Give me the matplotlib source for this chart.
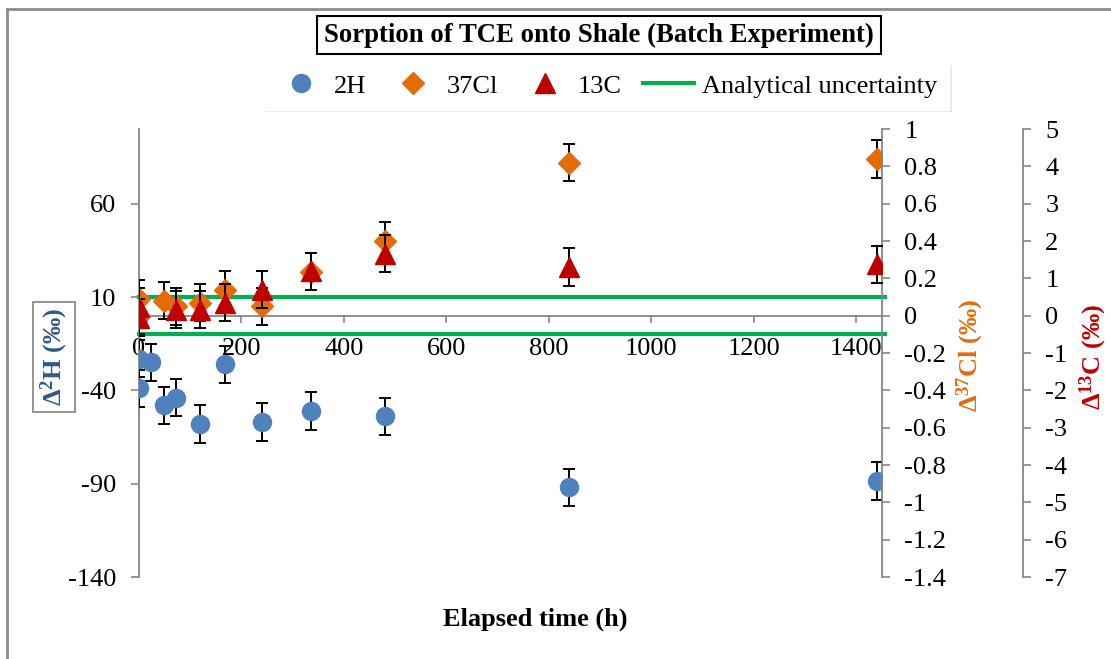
"""
Sorption of TCE onto shale (batch experiment): isotope shifts vs. elapsed time
on three stacked y scales (2H left, 37Cl and 13C right).
"""

import matplotlib
matplotlib.use("Agg")
import matplotlib.pyplot as plt
from matplotlib.lines import Line2D

plt.rcParams['font.family'] = ['Liberation Serif', 'DejaVu Serif']
plt.rcParams['mathtext.fontset'] = 'custom'
plt.rcParams['mathtext.rm'] = 'Liberation Serif'
plt.rcParams['mathtext.bf'] = 'Liberation Serif:bold'
plt.rcParams['mathtext.default'] = 'bf'
plt.rcParams['axes.unicode_minus'] = False

# ---- data ----
T_H = [0, 0, 0, 24, 48, 72, 120, 168, 240, 336, 480, 840, 1440]
D2H = [0, -23, -39, -25, -48, -44, -58, -26, -57, -51, -54, -92, -88.5]
H_ERR = 10

T_CL = [0, 0, 48, 72, 120, 168, 240, 336, 480, 840, 1440]
D37CL = [0.0, 0.09, 0.08, 0.05, 0.07, 0.14, 0.05, 0.235, 0.40, 0.82, 0.84]
CL_ERR = 0.1

T_C = [0, 0, 72, 120, 168, 240, 336, 480, 840, 1440]
D13C = [0.24, -0.05, 0.16, 0.16, 0.35, 0.7, 1.19, 1.66, 1.3, 1.38]
C_ERR = 0.5

UNCERT_CL = 0.1  # analytical uncertainty band on the 37Cl scale

X_TICKS = [0, 200, 400, 600, 800, 1000, 1200, 1400]
H_TICKS = [-140, -90, -40, 10, 60]
CL_TICKS = [-1.4, -1.2, -1.0, -0.8, -0.6, -0.4, -0.2, 0, 0.2, 0.4, 0.6, 0.8, 1.0]
C_TICKS = list(range(-7, 6))

BLUE = '#4F81BD'
ORANGE = '#E36C09'
RED = '#C00000'
GREEN = '#00B050'
GRAY = '#868686'
FS = 19


def fmt(v):
    s = f"{v:.1f}".rstrip('0').rstrip('.')
    return '0' if s in ('-0', '0') else s


fig = plt.figure(figsize=(11.11, 6.59), dpi=100)
ax = fig.add_axes([0.1251, 0.1244, 0.6688, 0.6798])
ax2 = ax.twinx()
ax3 = ax.twinx()

eb = dict(ecolor='black', elinewidth=1.4, capsize=4.5, capthick=1.4)

# primary: 2H
ax.errorbar(T_H, D2H, yerr=H_ERR, fmt='o', ms=13, color=BLUE, zorder=3, **eb)
ax.set_xlim(0, 1450)
ax.set_ylim(-140, 100)

# secondary: 37Cl + uncertainty lines
ax2.plot([0, 1455], [UNCERT_CL, UNCERT_CL], color=GREEN, lw=3, clip_on=False)
ax2.plot([0, 1455], [-UNCERT_CL, -UNCERT_CL], color=GREEN, lw=3, clip_on=False)
ax2.errorbar(T_CL, D37CL, yerr=CL_ERR, fmt='D', ms=11, color=ORANGE, **eb)
ax2.set_ylim(-1.4, 1.0)

# tertiary: 13C
ax3.errorbar(T_C, D13C, yerr=C_ERR, fmt='^', ms=14, color=RED, **eb)
ax3.set_ylim(-7, 5)
ax3.spines['right'].set_position(('axes', 1.1898))

# spines
for a in (ax, ax2, ax3):
    a.spines['top'].set_visible(False)
    for s in a.spines.values():
        s.set_color(GRAY)
        s.set_linewidth(1.3)
ax.spines['right'].set_visible(False)
ax.spines['bottom'].set_position(('data', 0))
for a in (ax2, ax3):
    a.spines['left'].set_visible(False)
    a.spines['bottom'].set_visible(False)

ax.set_xticks(X_TICKS)
ax.set_xticklabels([str(v) for v in X_TICKS])
ax.set_yticks(H_TICKS)
ax.set_yticklabels([str(v) for v in H_TICKS])
ax2.set_yticks(CL_TICKS)
ax2.set_yticklabels([fmt(v) for v in CL_TICKS])
ax3.set_yticks(C_TICKS)
ax3.set_yticklabels([str(v) for v in C_TICKS])

ax.tick_params(axis='x', direction='out', length=5, width=1.2, color=GRAY, pad=11, labelsize=FS)
ax.tick_params(axis='y', direction='out', length=6, width=1.2, color=GRAY, pad=10.5, labelsize=FS)
for a in (ax2, ax3):
    a.tick_params(axis='y', direction='out', length=6, width=1.2, color=GRAY, pad=10, labelsize=FS)

# axis titles
fig.text(535 / 1111, 1 - 619 / 659, 'Elapsed time (h)', ha='center', va='center',
         fontsize=FS, fontweight='bold')
fig.text(54 / 1111, 1 - 357 / 659, r'Δ$^{2}$H (‰)', rotation=90, ha='center', va='center',
         fontsize=FS, fontweight='bold', color='#2E5A88',
         bbox=dict(boxstyle='square,pad=0.2', fc='white', ec='#8C8C8C', lw=1.3))
fig.text(970 / 1111, 1 - 355 / 659, r'Δ$^{37}$Cl (‰)', rotation=90, ha='center', va='center',
         fontsize=FS, fontweight='bold', color=ORANGE)
fig.text(1093 / 1111, 1 - 357 / 659, r'Δ$^{13}$C (‰)', rotation=90, ha='center', va='center',
         fontsize=FS, fontweight='bold', color=RED)

# title in a box
fig.text(599 / 1111, 1 - 35 / 659, 'Sorption of TCE onto Shale (Batch Experiment)',
         ha='center', va='center', fontsize=19.3, fontweight='bold',
         bbox=dict(boxstyle='square,pad=0.25', fc='white', ec='black', lw=1.5))

# legend
handles = [
    Line2D([], [], ls='none', marker='o', ms=13, color=BLUE),
    Line2D([], [], ls='none', marker='D', ms=11, color=ORANGE),
    Line2D([], [], ls='none', marker='^', ms=14, color=RED),
    Line2D([], [], color=GREEN, lw=3),
]
fig.legend(handles, ['2H', '37Cl', '13C', 'Analytical uncertainty'],
           loc='center', bbox_to_anchor=(606 / 1111, 1 - 86 / 659), ncol=4,
           fontsize=FS, frameon=True, fancybox=False, edgecolor='white', facecolor='white',
           framealpha=1, shadow={'facecolor': '#d8d8d8', 'edgecolor': 'none', 'alpha': 0.6},
           handlelength=1.95, handletextpad=0.28, columnspacing=0.8, borderpad=0.45)

# chart-area border (left and top edges visible)
fig.add_artist(Line2D([7 / 1111, 7 / 1111], [-0.05, 1 - 9 / 659], color='#8C8C8C', lw=2,
                      transform=fig.transFigure))
fig.add_artist(Line2D([7 / 1111, 1.05], [1 - 9 / 659, 1 - 9 / 659], color='#8C8C8C', lw=2,
                      transform=fig.transFigure))

fig.savefig('out.png', dpi=100)
